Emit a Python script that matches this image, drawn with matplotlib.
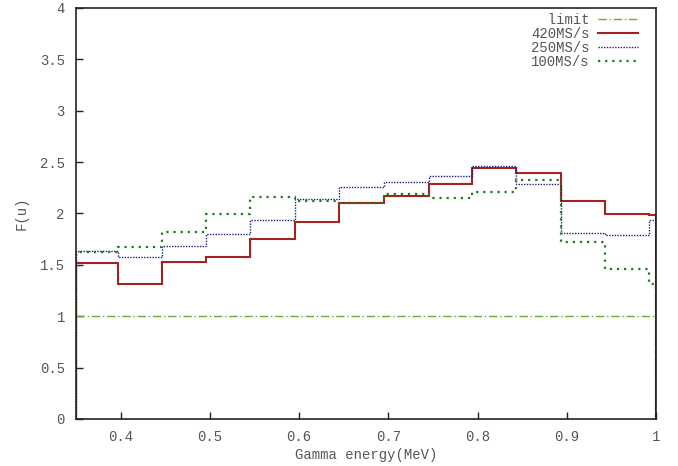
import matplotlib
matplotlib.use("Agg")
import matplotlib.pyplot as plt

# bin edges (MeV) and F(u) per bin
edges = [0.35, 0.397, 0.446, 0.496, 0.545, 0.595, 0.645, 0.695,
         0.745, 0.794, 0.843, 0.893, 0.942, 0.992, 1.0]
f_420 = [1.52, 1.31, 1.53, 1.58, 1.75, 1.92, 2.10, 2.17, 2.29,
         2.44, 2.39, 2.12, 1.99, 1.98]
f_250 = [1.63, 1.58, 1.68, 1.80, 1.94, 2.14, 2.26, 2.31, 2.36,
         2.46, 2.29, 1.81, 1.79, 1.94]
f_100 = [1.62, 1.67, 1.82, 1.99, 2.16, 2.12, 2.10, 2.19, 2.15,
         2.21, 2.33, 1.72, 1.46, 1.31]
limit = 1.0

xticks = [0.4, 0.5, 0.6, 0.7, 0.8, 0.9, 1]
yticks = [0, 0.5, 1, 1.5, 2, 2.5, 3, 3.5, 4]

plt.rcParams["font.family"] = ["Liberation Mono", "DejaVu Sans Mono"]
plt.rcParams["font.size"] = 10
text_col = "#555555"

fig = plt.figure(figsize=(6.78, 4.66), dpi=100)
ax = fig.add_axes([0.112, 0.101, 0.856, 0.882])

ax.axhline(limit, color="#6aaa3a", lw=1.0, ls=(0, (6, 2, 1, 2)), label="  limit")
ax.stairs(f_420, edges, color="#a3231f", lw=1.5, label="420MS/s")
ax.stairs(f_250, edges, color="#1c1c80", lw=1.0, ls=(0, (1, 1)), label="250MS/s")
ax.stairs(f_100, edges, color="#1f7a1f", lw=1.6, ls=(0, (1, 2.2)), label="100MS/s")

ax.set_xlim(0.35, 1.0)
ax.set_ylim(0, 4)
ax.set_xticks(xticks)
ax.set_xticklabels([str(t) for t in xticks])
ax.set_yticks(yticks)
ax.set_yticklabels([f"{t:g}" for t in yticks])
ax.tick_params(direction="in", length=5, width=1, colors="#222222",
               labelcolor=text_col, pad=8)
for s in ax.spines.values():
    s.set_linewidth(1.2)
    s.set_color("#222222")

ax.set_xlabel("Gamma energy(MeV)", color=text_col, labelpad=3)
ax.set_ylabel("F(u)", color=text_col, labelpad=8)

leg = ax.legend(loc="upper right", frameon=False, markerfirst=False,
                handlelength=2.9, handletextpad=0.6, labelspacing=0.0,
                borderpad=0, borderaxespad=0,
                bbox_to_anchor=(1 - 18 / 580, 1 - 5 / 411), fontsize=10)
for t in leg.get_texts():
    t.set_color(text_col)

fig.savefig("out.png", dpi=100)
